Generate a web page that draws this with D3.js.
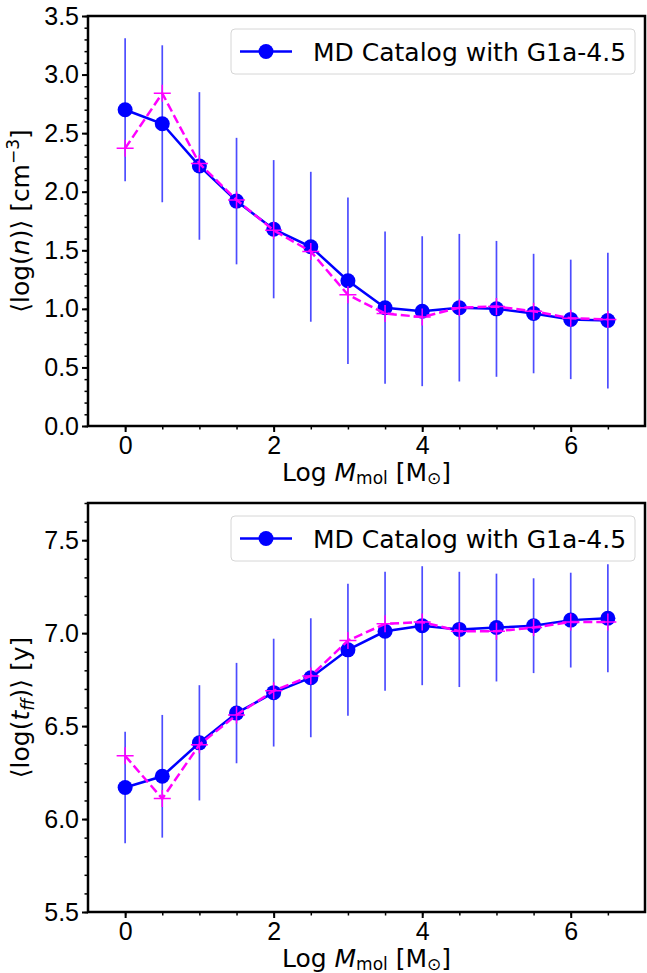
<!DOCTYPE html>
<html>
<head>
<meta charset="utf-8">
<script src="https://cdn.jsdelivr.net/npm/d3@7"></script>
<style>
  html, body { margin: 0; padding: 0; background: #fff; }
  svg { display: block; font-family: "DejaVu Sans", sans-serif; }
  .tick text { font-size: 25px; fill: #000; }
  .domain { display: none; }
</style>
</head>
<body>
<svg id="chart" width="647" height="973"></svg>
<script>
"use strict";

// Bins of log M_mol.
const massBins = [0, 0.5, 1, 1.5, 2, 2.5, 3, 3.5, 4, 4.5, 5, 5.5, 6, 6.5];
const massTicks = [0, 2, 4, 6];

// Top panel: <log(n)>.
const densityMean = [2.70, 2.58, 2.22, 1.92, 1.68, 1.53, 1.24, 1.01, 0.98, 1.01, 1.00, 0.96, 0.91, 0.90];
const densityErr = [0.61, 0.67, 0.63, 0.54, 0.59, 0.64, 0.71, 0.65, 0.64, 0.63, 0.58, 0.51, 0.51, 0.58];
const densityAlt = [2.37, 2.84, 2.24, 1.93, 1.67, 1.49, 1.12, 0.96, 0.93, 1.01, 1.02, 0.98, 0.92, 0.91];
const densityTicks = [0.0, 0.5, 1.0, 1.5, 2.0, 2.5, 3.0, 3.5];

// Bottom panel: <log(t_ff)>.
const tffMean = [6.17, 6.23, 6.41, 6.57, 6.68, 6.76, 6.91, 7.01, 7.04, 7.02, 7.03, 7.04, 7.07, 7.08];
const tffErr = [0.30, 0.33, 0.31, 0.27, 0.29, 0.32, 0.355, 0.32, 0.32, 0.31, 0.29, 0.255, 0.255, 0.29];
const tffAlt = [6.34, 6.11, 6.40, 6.56, 6.69, 6.77, 6.96, 7.05, 7.06, 7.01, 7.01, 7.03, 7.06, 7.06];
const tffTicks = [5.5, 6.0, 6.5, 7.0, 7.5];

const legendLabel = "MD Catalog with G1a-4.5";

const svg = d3.select("#chart");

// Draws one panel.
const drawPanel = (p) => {
  const x = d3.scaleLinear().domain([-0.5, 7]).range([p.left, p.right]),
        y = d3.scaleLinear().domain(p.yDomain).range([p.bottom, p.top]);

  const g = svg.append("g");

  // Minor ticks.
  g.append("g")
      .attr("transform", "translate(0," + p.bottom + ")")
      .call(d3.axisBottom(x)
          .tickValues(x.ticks(15).filter((t) => t > -0.5 && t < 7))
          .tickSize(3.5).tickFormat(""))
      .selectAll("line").attr("stroke-width", 1.5);
  g.append("g")
      .attr("transform", "translate(" + p.left + ",0)")
      .call(d3.axisLeft(y)
          .tickValues(y.ticks(Math.round((p.yDomain[1] - p.yDomain[0]) * 10)))
          .tickSize(3.5).tickFormat(""))
      .selectAll("line").attr("stroke-width", 1.5);

  // Major ticks.
  g.append("g")
      .attr("transform", "translate(0," + p.bottom + ")")
      .call(d3.axisBottom(x).tickValues(massTicks).tickSize(6).tickPadding(4)
          .tickFormat(d3.format("d")))
      .selectAll("line").attr("stroke-width", 2);
  g.append("g")
      .attr("transform", "translate(" + p.left + ",0)")
      .call(d3.axisLeft(y).tickValues(p.yTicks).tickSize(6).tickPadding(3)
          .tickFormat(d3.format(".1f")))
      .selectAll("line").attr("stroke-width", 2);

  // Error bars.
  g.append("g").selectAll("line")
      .data(massBins)
      .enter().append("line")
      .attr("x1", (d) => x(d))
      .attr("x2", (d) => x(d))
      .attr("y1", (d, i) => y(p.mean[i] - p.err[i]))
      .attr("y2", (d, i) => y(p.mean[i] + p.err[i]))
      .attr("stroke", "#0000ff")
      .attr("stroke-opacity", 0.7)
      .attr("stroke-width", 1.7);

  // Mean line with markers.
  const line = (vals) => d3.line()
      .x((d) => x(d))
      .y((d, i) => y(vals[i]))(massBins);

  g.append("path")
      .attr("d", line(p.mean))
      .attr("fill", "none")
      .attr("stroke", "#0000ff")
      .attr("stroke-width", 2.5);
  g.append("g").selectAll("circle")
      .data(massBins)
      .enter().append("circle")
      .attr("cx", (d) => x(d))
      .attr("cy", (d, i) => y(p.mean[i]))
      .attr("r", 7.5)
      .attr("fill", "#0000ff");

  // Dashed magenta line with plus markers.
  g.append("path")
      .attr("d", line(p.alt))
      .attr("fill", "none")
      .attr("stroke", "#ff00ff")
      .attr("stroke-width", 2.5)
      .attr("stroke-dasharray", "9,4");
  const plus = g.append("g").selectAll("g")
      .data(massBins)
      .enter().append("g")
      .attr("transform", (d, i) => "translate(" + x(d) + "," + y(p.alt[i]) + ")");
  plus.append("path")
      .attr("d", "M-8.5,0H8.5M0,-8.5V8.5")
      .attr("stroke", "#ff00ff")
      .attr("stroke-width", 1.5);

  // Frame.
  g.append("rect")
      .attr("x", p.left).attr("y", p.top)
      .attr("width", p.right - p.left).attr("height", p.bottom - p.top)
      .attr("fill", "none").attr("stroke", "#000").attr("stroke-width", 2.5);

  // Legend.
  const lw = 404, lh = 45,
        lx = p.right - 10 - lw, ly = p.top + 13;
  const legend = g.append("g").attr("transform", "translate(" + lx + "," + ly + ")");
  legend.append("rect")
      .attr("width", lw).attr("height", lh).attr("rx", 4)
      .attr("fill", "#fff").attr("fill-opacity", 0.8)
      .attr("stroke", "#d6d6d6").attr("stroke-width", 1);
  legend.append("line")
      .attr("x1", 9).attr("x2", 61).attr("y1", lh / 2).attr("y2", lh / 2)
      .attr("stroke", "#0000ff").attr("stroke-width", 2.5);
  legend.append("circle")
      .attr("cx", 35).attr("cy", lh / 2).attr("r", 7.5).attr("fill", "#0000ff");
  legend.append("text")
      .attr("x", 82).attr("y", lh / 2).attr("dy", "0.36em")
      .attr("font-size", 25)
      .text(legendLabel);

  // X label.
  const xl = g.append("text")
      .attr("x", (p.left + p.right) / 2).attr("y", p.bottom + 54.5)
      .attr("text-anchor", "middle").attr("font-size", 25);
  xl.append("tspan").text("Log ");
  xl.append("tspan").attr("font-style", "italic").text("M");
  xl.append("tspan").attr("font-size", 17).attr("dy", 3.5).text("mol");
  xl.append("tspan").attr("dy", -3.5).text(" [M");
  xl.append("tspan").attr("font-size", 17).attr("dy", 3.5).text("\u2299");
  xl.append("tspan").attr("dy", -3.5).text("]");

  // Y label.
  const yl = g.append("text")
      .attr("transform", "translate(29," + ((p.top + p.bottom) / 2) + ") rotate(-90)")
      .attr("text-anchor", "middle").attr("font-size", 25);
  p.yLabel(yl);
};

drawPanel({
  left: 88, right: 645, top: 16, bottom: 426,
  yDomain: [0, 3.5], yTicks: densityTicks,
  mean: densityMean, err: densityErr, alt: densityAlt,
  yLabel: (t) => {
    t.append("tspan").text("\u27E8log(");
    t.append("tspan").attr("font-style", "italic").text("n");
    t.append("tspan").text(")\u27E9 [cm");
    t.append("tspan").attr("font-size", 17).attr("dy", -10).text("\u22123");
    t.append("tspan").attr("dy", 10).text("]");
  }
});

drawPanel({
  left: 88, right: 645, top: 503, bottom: 912,
  yDomain: [5.5, 7.7], yTicks: tffTicks,
  mean: tffMean, err: tffErr, alt: tffAlt,
  yLabel: (t) => {
    t.append("tspan").text("\u27E8log(");
    t.append("tspan").attr("font-style", "italic").text("t");
    t.append("tspan").attr("font-style", "italic").attr("font-size", 17).attr("dy", 5).text("ff");
    t.append("tspan").attr("dy", -5).text(")\u27E9 [y]");
  }
});
</script>
</body>
</html>
